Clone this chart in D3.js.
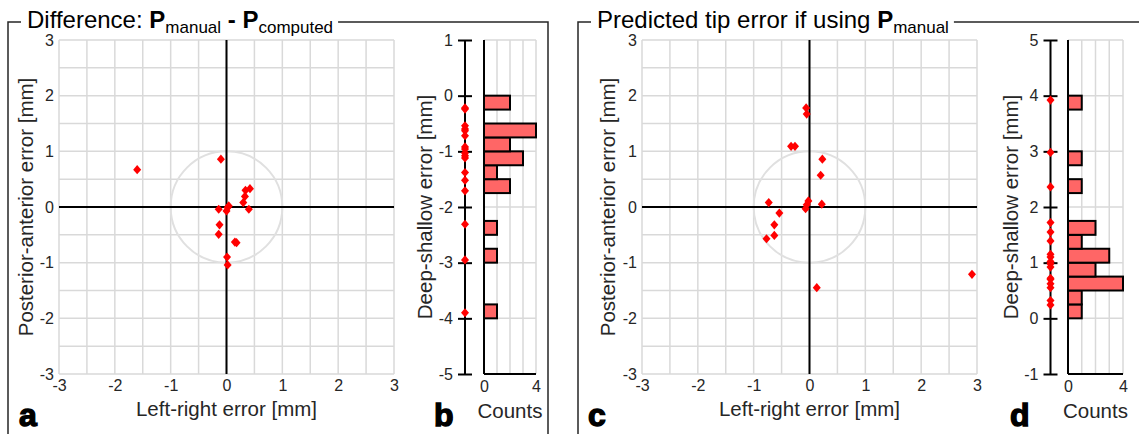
<!DOCTYPE html>
<meta charset='utf-8'>
<style>
body { margin: 0; background: #fff; }
svg { font-family: 'Liberation Sans', Arial, sans-serif; }
.grid line { stroke: #d9d9d9; stroke-width: 1.5; }
.ticks text { font-size: 16px; fill: #262626; font-family: 'Liberation Sans', Arial, sans-serif; }
.axis-title { font-size: 20.5px; fill: #262626; }
.bar { fill: #ff6666; stroke: #000; stroke-width: 2; }
.frame { fill: none; stroke: #262626; stroke-width: 1.5; }
.title { font-size: 24px; fill: #000; }
.letter { font-size: 32px; font-weight: bold; fill: #000; stroke: #000; stroke-width: 1.4; }
</style>
<svg width='1139' height='434'></svg>

<script src='https://cdn.jsdelivr.net/npm/d3@7/dist/d3.min.js'></script>

<script>
  // panel a/b: difference P_manual - P_computed
  var lrDiff = [-0.10, 0.34, 0.42, 0.33, 0.30, 0.40, -0.14, 0.02, 0.00, 0.04, -0.125, -0.14, 0.15, 0.18, 0.01, 0.02, -1.60];
  var paDiff = [0.86, 0.30, 0.33, 0.19, 0.08, -0.04, -0.04, -0.01, -0.07, 0.02, -0.32, -0.49, -0.63, -0.64, -0.90, -1.04, 0.67];
  var dsDiff = [-0.22, -0.24, -0.54, -0.60, -0.63, -0.72, -0.92, -0.96, -1.03, -1.08, -1.12, -1.38, -1.52, -1.71, -2.31, -2.95, -3.90];

  // panel c/d: predicted tip error
  var lrTip = [-0.06, -0.05, -0.33, -0.26, 0.23, 0.20, -0.73, -0.02, -0.05, -0.07, 0.22, -0.54, -0.63, -0.63, -0.77, 0.13, 2.91];
  var paTip = [1.78, 1.67, 1.09, 1.09, 0.86, 0.57, 0.08, 0.11, 0.04, -0.03, 0.05, -0.11, -0.32, -0.51, -0.57, -1.45, -1.21];
  var dsTip = [3.92, 2.98, 2.36, 1.72, 1.55, 1.39, 1.15, 1.10, 1.02, 0.98, 0.92, 0.72, 0.70, 0.62, 0.55, 0.32, 0.24];

  var scatterTicks = [-3, -2, -1, 0, 1, 2, 3];
  var depthTicksB = [-5, -4, -3, -2, -1, 0, 1];
  var depthTicksD = [-1, 0, 1, 2, 3, 4, 5];
  var countTicks = [0, 4];
  var binWidth = 0.25;

  var svg = d3.select('svg');
  var plain = d => String(d);   // hyphen minus, like the original

  // matlab-ish diamond
  var diamond = {
    draw: function(ctx, size) {
      var w = 4, h = 4.6;
      ctx.moveTo(0, -h); ctx.lineTo(w, 0); ctx.lineTo(0, h); ctx.lineTo(-w, 0); ctx.closePath();
    }
  };
  var diamondPath = d3.symbol().type(diamond)();

  function styleAxis(g) {
    g.attr('font-size', null).attr('font-family', null).attr('class', 'ticks');
    g.select('.domain').remove();
  }

  function frame(x0, x1, title) {
    var t = svg.append('text').attr('class', 'title').attr('x', x0 + 19).attr('y', 28);
    title(t);
    var bb = t.node().getBBox();
    var p = d3.path();
    p.moveTo(x0, 434); p.lineTo(x0, 22); p.lineTo(x0 + 13, 22);
    p.moveTo(bb.x + bb.width + 5, 22); p.lineTo(x1, 22);
    if (x1 < 1139) p.lineTo(x1, 434);
    svg.append('path').attr('class', 'frame').attr('d', p.toString());
  }

  function scatter(x, y, lr, pa, yTitleX) {
    var g = svg.append('g');
    var grid = d3.range(-3, 3.001, 0.5);
    var gg = g.append('g').attr('class', 'grid');
    gg.selectAll('.v').data(grid).enter().append('line')
      .attr('x1', d => x(d)).attr('x2', d => x(d)).attr('y1', y(-3)).attr('y2', y(3));
    gg.selectAll('.h').data(grid).enter().append('line')
      .attr('y1', d => y(d)).attr('y2', d => y(d)).attr('x1', x(-3)).attr('x2', x(3));

    g.append('ellipse')
      .attr('cx', x(0)).attr('cy', y(0))
      .attr('rx', x(1) - x(0)).attr('ry', y(0) - y(1))
      .attr('fill', 'none').attr('stroke', '#e0e0e0').attr('stroke-width', 2);

    g.append('line').attr('x1', x(-3)).attr('x2', x(3)).attr('y1', y(0)).attr('y2', y(0))
      .attr('stroke', '#000').attr('stroke-width', 2);
    g.append('line').attr('x1', x(0)).attr('x2', x(0)).attr('y1', y(-3)).attr('y2', y(3))
      .attr('stroke', '#000').attr('stroke-width', 2);

    g.append('g').attr('transform', 'translate(0,' + y(-3) + ')')
      .call(d3.axisBottom(x).tickValues(scatterTicks).tickSize(0).tickPadding(6).tickFormat(plain))
      .call(styleAxis);
    g.append('g').attr('transform', 'translate(' + x(-3) + ',0)')
      .call(d3.axisLeft(y).tickValues(scatterTicks).tickSize(0).tickPadding(5).tickFormat(plain))
      .call(styleAxis);

    g.selectAll('.pt').data(lr).enter().append('path')
      .attr('d', diamondPath)
      .attr('fill', '#ff0000')
      .attr('transform', (d, i) => 'translate(' + x(d) + ',' + y(pa[i]) + ')');

    g.append('text').attr('class', 'axis-title').attr('text-anchor', 'middle')
      .attr('x', x(0)).attr('y', 416).text('Left-right error [mm]');
    g.append('text').attr('class', 'axis-title').attr('text-anchor', 'middle')
      .attr('transform', 'translate(' + yTitleX + ',' + y(0) + ') rotate(-90)')
      .text('Posterior-anterior error [mm]');
  }

  function histogram(axisX, c, y, values, ticks, yTitleX) {
    var g = svg.append('g');
    var dom = y.domain();
    var bins = d3.bin().domain(dom).thresholds(d3.range(dom[0], dom[1], binWidth))(values)
      .filter(b => b.length > 0);

    var gg = g.append('g').attr('class', 'grid');
    gg.selectAll('.h').data(ticks).enter().append('line')
      .attr('x1', c(0)).attr('x2', c(4)).attr('y1', d => y(d)).attr('y2', d => y(d));
    gg.selectAll('.v').data([1, 2, 3, 4]).enter().append('line')
      .attr('x1', d => c(d)).attr('x2', d => c(d)).attr('y1', y(dom[0])).attr('y2', y(dom[1]));

    g.selectAll('.bar').data(bins).enter().append('rect')
      .attr('class', 'bar')
      .attr('x', c(0)).attr('y', d => y(d.x1))
      .attr('width', d => c(d.length) - c(0))
      .attr('height', d => y(d.x0) - y(d.x1));

    g.append('line').attr('x1', c(0)).attr('x2', c(0)).attr('y1', y(dom[0])).attr('y2', y(dom[1]))
      .attr('stroke', '#000').attr('stroke-width', 2);
    g.append('line').attr('x1', c(0)).attr('x2', c(4)).attr('y1', y(dom[0])).attr('y2', y(dom[0]))
      .attr('stroke', '#000').attr('stroke-width', 2);

    g.append('g').attr('transform', 'translate(0,' + y(dom[0]) + ')')
      .call(d3.axisBottom(c).tickValues(countTicks).tickSize(0).tickPadding(7).tickFormat(plain))
      .call(styleAxis);

    // the value axis with diamonds on it
    g.append('line').attr('x1', axisX).attr('x2', axisX).attr('y1', y(dom[0])).attr('y2', y(dom[1]))
      .attr('stroke', '#000').attr('stroke-width', 2);
    g.append('g').attr('transform', 'translate(' + (axisX + 7) + ',0)')
      .call(d3.axisLeft(y).tickValues(ticks).tickSize(14).tickPadding(5).tickFormat(plain))
      .call(styleAxis)
      .selectAll('line').attr('stroke', '#000').attr('stroke-width', 2);

    g.selectAll('.pt').data(values).enter().append('path')
      .attr('d', diamondPath)
      .attr('fill', '#ff0000')
      .attr('transform', d => 'translate(' + axisX + ',' + y(d) + ')');

    g.append('text').attr('class', 'axis-title').attr('text-anchor', 'middle')
      .attr('x', (c(0) + c(4)) / 2).attr('y', 418).text('Counts');
    g.append('text').attr('class', 'axis-title').attr('text-anchor', 'middle')
      .attr('transform', 'translate(' + yTitleX + ',' + (y(dom[0]) + y(dom[1])) / 2 + ') rotate(-90)')
      .text('Deep-shallow error [mm]');
  }

  function sub(t, txt) {
    t.append('tspan').attr('font-size', '17px').attr('dy', 5).text(txt);
  }

  frame(8, 548, function(t) {
    t.append('tspan').text('Difference: ');
    t.append('tspan').attr('font-weight', 'bold').text('P');
    sub(t, 'manual');
    t.append('tspan').attr('dy', -5).attr('font-weight', 'bold').text(' - P');
    sub(t, 'computed');
  });
  frame(578, 1139, function(t) {
    t.append('tspan').text('Predicted tip error if using ');
    t.append('tspan').attr('font-weight', 'bold').text('P');
    sub(t, 'manual');
  });

  scatter(d3.scaleLinear([-3, 3], [59, 394]), d3.scaleLinear([-3, 3], [374, 40]), lrDiff, paDiff, 33);
  histogram(465, d3.scaleLinear([0, 4], [484, 536]), d3.scaleLinear([-5, 1], [374, 40]), dsDiff, depthTicksB, 432);

  scatter(d3.scaleLinear([-3, 3], [642, 977]), d3.scaleLinear([-3, 3], [374, 40]), lrTip, paTip, 615);
  histogram(1050.5, d3.scaleLinear([0, 4], [1068, 1123]), d3.scaleLinear([-1, 5], [374, 40]), dsTip, depthTicksD, 1018);

  [['a', 19], ['b', 434], ['c', 588], ['d', 1010]].forEach(function(l) {
    svg.append('text').attr('class', 'letter').attr('x', l[1]).attr('y', 426).text(l[0]);
  });
</script>
